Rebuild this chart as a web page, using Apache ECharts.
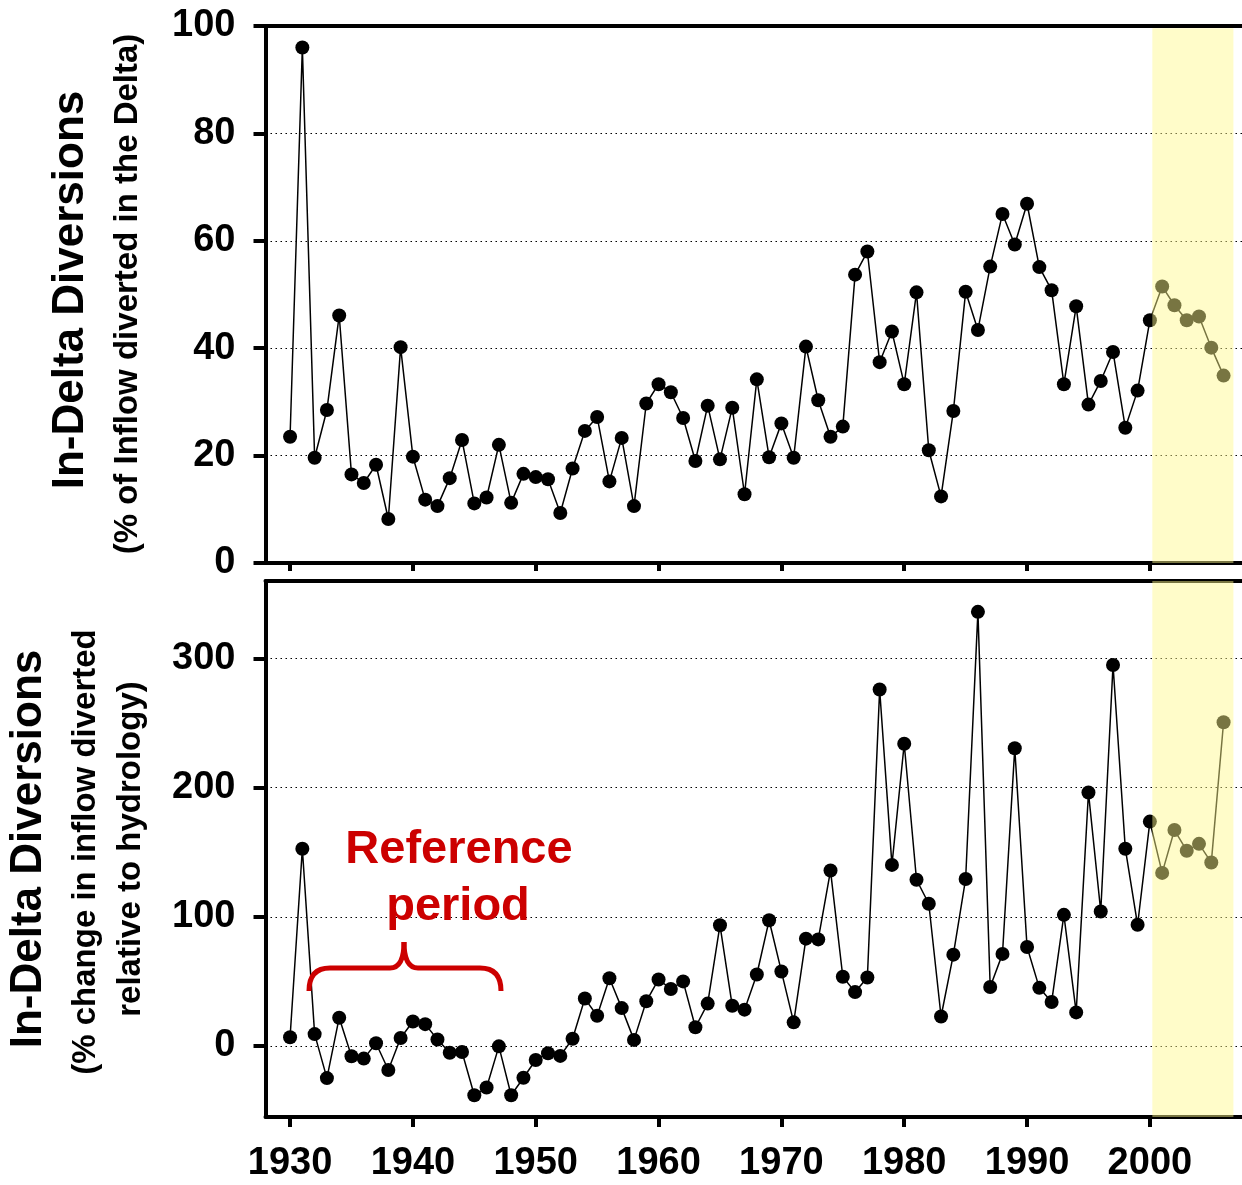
<!DOCTYPE html>
<html>
<head>
<meta charset="utf-8">
<title>In-Delta Diversions</title>
<script src="https://cdn.jsdelivr.net/npm/echarts@6.0.0/dist/echarts.min.js"></script>
<style>
  html, body { margin: 0; padding: 0; background: #fff; }
  #chart { width: 1242px; height: 1185px; }
</style>
</head>
<body>
<div id="chart"></div>
<script>
let years = [1930, 1931, 1932, 1933, 1934, 1935, 1936, 1937, 1938, 1939,
  1940, 1941, 1942, 1943, 1944, 1945, 1946, 1947, 1948, 1949,
  1950, 1951, 1952, 1953, 1954, 1955, 1956, 1957, 1958, 1959,
  1960, 1961, 1962, 1963, 1964, 1965, 1966, 1967, 1968, 1969,
  1970, 1971, 1972, 1973, 1974, 1975, 1976, 1977, 1978, 1979,
  1980, 1981, 1982, 1983, 1984, 1985, 1986, 1987, 1988, 1989,
  1990, 1991, 1992, 1993, 1994, 1995, 1996, 1997, 1998, 1999,
  2000, 2001, 2002, 2003, 2004, 2005, 2006];

// % of inflow diverted in the Delta
let pctInflowDiverted = [23.5, 96.0, 19.6, 28.5, 46.1, 16.5, 14.9, 18.3, 8.2, 40.2,
  19.8, 11.8, 10.6, 15.8, 22.9, 11.1, 12.2, 22.0, 11.2, 16.6,
  16.0, 15.6, 9.3, 17.6, 24.6, 27.2, 15.2, 23.3, 10.6, 29.7,
  33.3, 31.8, 27.0, 19.0, 29.3, 19.3, 28.9, 12.8, 34.2, 19.7,
  26.0, 19.6, 40.3, 30.3, 23.5, 25.4, 53.7, 58.0, 37.4, 43.1,
  33.3, 50.4, 21.0, 12.4, 28.3, 50.5, 43.4, 55.2, 65.0, 59.3,
  66.9, 55.1, 50.8, 33.3, 47.8, 29.5, 33.9, 39.3, 25.2, 32.1,
  45.2, 51.5, 48.0, 45.2, 45.9, 40.1, 34.9];

// % change in inflow diverted relative to hydrology
let pctChangeDiverted = [6.8, 152.7, 9.2, -24.9, 21.9, -8.0, -9.8, 2.1, -18.6, 6.2,
  18.9, 16.9, 5.0, -5.3, -4.7, -38.2, -32.2, -0.3, -38.2, -24.6,
  -10.9, -5.6, -7.7, 5.6, 36.7, 23.4, 52.4, 29.3, 4.7, 34.6,
  51.5, 44.1, 50.0, 14.5, 32.8, 93.5, 31.1, 28.1, 55.3, 97.3,
  57.7, 18.3, 83.1, 82.5, 135.8, 53.6, 41.7, 53.0, 276.0, 140.2,
  234.0, 128.7, 110.1, 22.8, 70.7, 129.3, 336.1, 45.6, 71.3, 230.5,
  76.6, 45.0, 34.0, 101.5, 26.0, 196.2, 104.1, 295.0, 152.7, 93.8,
  173.7, 134.0, 167.2, 151.2, 156.5, 142.0, 250.6];

let yearTicks = [1930, 1940, 1950, 1960, 1970, 1980, 1990, 2000];
let changeTicks = [0, 100, 200, 300];
let bandYears = [2000.2, 2006.8];

let FONT = '"Liberation Sans", Arial, sans-serif';
let xRange = [1928, 2007.5];
let topRange = [0, 100];
let bottomRange = [-55, 360];
let RED = '#CC0000';

let chart = echarts.init(document.getElementById('chart'), null, {renderer: 'canvas'});

function pairs(vals) {
  return years.map((y, i) => [y, vals[i]]);
}

let plain = v => String(v);

function xAxisBottom(gridIndex, withLabels) {
  return {
    type: 'value', gridIndex: gridIndex, position: 'bottom',
    min: xRange[0], max: xRange[1],
    axisLine: {show: true, onZero: false, lineStyle: {color: '#000', width: 4}},
    axisTick: {show: true, length: withLabels ? 10 : 8, customValues: yearTicks,
      lineStyle: {color: '#000', width: 4}},
    axisLabel: {show: withLabels, customValues: yearTicks, margin: 28, formatter: plain,
      color: '#000', fontSize: 38, fontWeight: 'bold', fontFamily: FONT},
    splitLine: {show: false}
  };
}

function xAxisFrame(gridIndex) {
  return {
    type: 'value', gridIndex: gridIndex, position: 'top',
    min: xRange[0], max: xRange[1],
    axisLine: {show: true, onZero: false, lineStyle: {color: '#000', width: 4}},
    axisTick: {show: false}, axisLabel: {show: false}, splitLine: {show: false}
  };
}

let gridLine = {show: true, lineStyle: {color: '#000', width: 1.2, type: [1.5, 3.5]}};
let yLabel = {color: '#000', fontSize: 38, fontWeight: 'bold', fontFamily: FONT, margin: 30, formatter: plain};

function dataSeries(vals, idx) {
  return {
    type: 'line', xAxisIndex: idx * 2, yAxisIndex: idx,
    data: pairs(vals),
    symbol: 'circle', symbolSize: 14,
    itemStyle: {color: '#000'},
    lineStyle: {color: '#000', width: 1.5},
    z: 3, silent: true, animation: false
  };
}

function bandSeries(idx, yr) {
  return {
    type: 'line', xAxisIndex: idx * 2, yAxisIndex: idx, data: [],
    z: 10, silent: true, animation: false,
    markArea: {
      silent: true, z: 10,
      itemStyle: {color: 'rgba(255,248,140,0.47)', borderWidth: 0},
      data: [[{xAxis: bandYears[0], yAxis: yr[0]}, {xAxis: bandYears[1], yAxis: yr[1]}]]
    }
  };
}

function vText(x, y, text, size) {
  return {type: 'text', x: x, y: y, rotation: Math.PI / 2,
    style: {text: text, font: 'bold ' + size + 'px ' + FONT, fill: '#000',
      align: 'center', verticalAlign: 'middle'}};
}

function braceCurve(x1, y1, cx, cy, x2, y2) {
  return {type: 'bezierCurve', z: 20,
    shape: {x1: x1, y1: y1, cpx1: cx, cpy1: cy, x2: x2, y2: y2},
    style: {fill: null, stroke: RED, lineWidth: 5}};
}

function braceLine(x1, x2, y) {
  return {type: 'line', z: 20,
    shape: {x1: x1, y1: y, x2: x2, y2: y},
    style: {stroke: RED, lineWidth: 5}};
}

let option = {
  backgroundColor: '#fff',
  animation: false,
  grid: [
    {left: 265.5, right: 0, top: 26, height: 537},
    {left: 265.5, right: 0, top: 581, height: 536}
  ],
  xAxis: [xAxisBottom(0, false), xAxisFrame(0), xAxisBottom(1, true), xAxisFrame(1)],
  yAxis: [
    {
      type: 'value', gridIndex: 0, min: topRange[0], max: topRange[1], interval: 20,
      axisLine: {show: true, lineStyle: {color: '#000', width: 4}},
      axisTick: {show: true, length: 12, lineStyle: {color: '#000', width: 4}},
      axisLabel: yLabel,
      splitLine: gridLine
    },
    {
      type: 'value', gridIndex: 1, min: bottomRange[0], max: bottomRange[1],
      axisLine: {show: true, lineStyle: {color: '#000', width: 4}},
      axisTick: {show: true, length: 12, customValues: changeTicks, lineStyle: {color: '#000', width: 4}},
      axisLabel: Object.assign({customValues: changeTicks}, yLabel),
      splitLine: gridLine
    }
  ],
  series: [
    dataSeries(pctInflowDiverted, 0),
    dataSeries(pctChangeDiverted, 1),
    bandSeries(0, [topRange[0], 99.6]),
    bandSeries(1, bottomRange)
  ],
  graphic: [
    vText(71, 290, 'In-Delta Diversions', 44),
    vText(128, 294, '(% of Inflow diverted in the Delta)', 33),
    vText(29, 849, 'In-Delta Diversions', 44),
    vText(86, 852, '(% change in inflow diverted', 33),
    vText(131, 849, 'relative to hydrology)', 33),
    {type: 'text', x: 459, y: 850, z: 20,
      style: {text: 'Reference', font: 'bold 47px ' + FONT, fill: RED,
        align: 'center', verticalAlign: 'middle'}},
    {type: 'text', x: 458, y: 907, z: 20,
      style: {text: 'period', font: 'bold 47px ' + FONT, fill: RED,
        align: 'center', verticalAlign: 'middle'}},
    // curly brace over the reference period
    braceCurve(309, 991, 309, 968, 330, 968),
    braceLine(330, 390, 968),
    braceCurve(390, 968, 404, 968, 404, 942),
    braceCurve(404, 942, 404, 968, 418, 968),
    braceLine(418, 480, 968),
    braceCurve(480, 968, 501, 968, 501, 991)
  ]
};

chart.setOption(option);
</script>
</body>
</html>
